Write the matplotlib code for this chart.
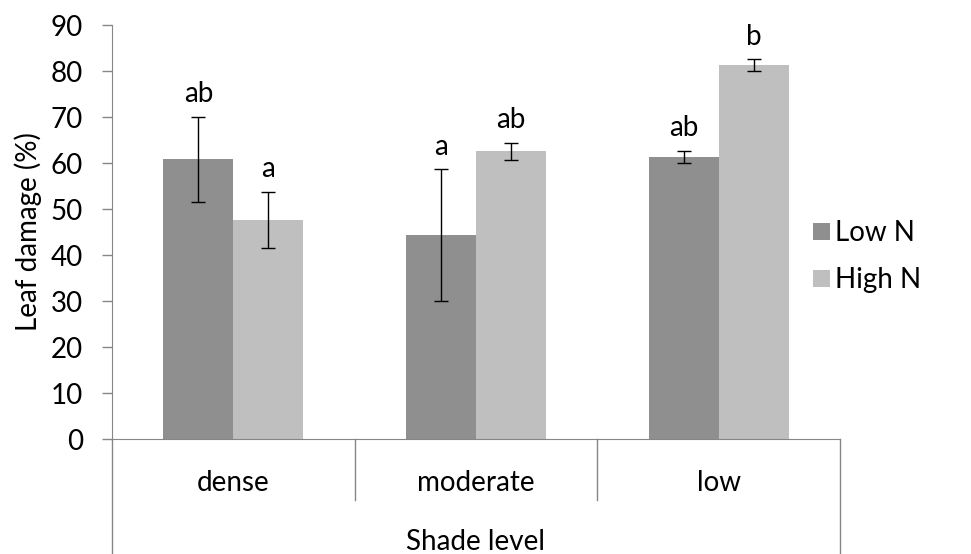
import matplotlib
matplotlib.use('Agg')
import matplotlib.pyplot as plt
import matplotlib.transforms as mtransforms
import numpy as np

# shade levels and group values
shade = ['dense', 'moderate', 'low']
low_n = [60.8, 44.3, 61.3]
low_n_err = [9.3, 14.3, 1.3]
high_n = [47.6, 62.5, 81.2]
high_n_err = [6.1, 1.8, 1.3]
low_n_letters = ['ab', 'a', 'ab']
high_n_letters = ['a', 'ab', 'b']

plt.rcParams['font.family'] = ['Lato', 'DejaVu Sans']
plt.rcParams['font.size'] = 20

fig = plt.figure(figsize=(9.71, 5.54), dpi=100)
ax = fig.add_axes([112/971, 1-439/554, (840-112)/971, (439-25)/554])

x = np.arange(len(shade))
w = 0.288
ax.bar(x - w/2, low_n, w, color='#8f8f8f', label='Low N', zorder=2)
ax.bar(x + w/2, high_n, w, color='#bfbfbf', label='High N', zorder=2)
ax.errorbar(x - w/2, low_n, yerr=low_n_err, fmt='none', ecolor='black',
            elinewidth=1, capsize=5, capthick=1, zorder=3)
ax.errorbar(x + w/2, high_n, yerr=high_n_err, fmt='none', ecolor='black',
            elinewidth=1, capsize=5, capthick=1, zorder=3)

# significance letters above the error bars
for i in range(len(shade)):
    ax.annotate(low_n_letters[i], (x[i] - w/2, low_n[i] + low_n_err[i]),
                xytext=(0, 7), textcoords='offset points', ha='center', va='bottom')
    ax.annotate(high_n_letters[i], (x[i] + w/2, high_n[i] + high_n_err[i]),
                xytext=(0, 7), textcoords='offset points', ha='center', va='bottom')

ax.set_xlim(-0.5, 2.5)
ax.set_ylim(0, 90)
ax.set_yticks(range(0, 91, 10))
ax.tick_params(axis='y', length=7, color='#868686', width=1, pad=14)
ax.tick_params(axis='x', length=0, pad=22)
ax.set_xticks(x)
ax.set_xticklabels(shade)
for s in ['top', 'right']:
    ax.spines[s].set_visible(False)
for s in ['left', 'bottom']:
    ax.spines[s].set_color('#868686')
ax.set_ylabel('Leaf damage (%)', labelpad=6)

# multi-level category axis lines
trans = mtransforms.blended_transform_factory(ax.transData, ax.transAxes)
bottom = -439/414
ax.plot([-0.5, -0.5], [0, bottom], color='#868686', lw=1, transform=trans, clip_on=False)
ax.plot([2.5, 2.5], [0, bottom], color='#868686', lw=1, transform=trans, clip_on=False)
for b in [0.5, 1.5]:
    ax.plot([b, b], [0, -61/414], color='#868686', lw=1, transform=trans, clip_on=False)
ax.text(1.0, -103/414, 'Shade level', transform=trans, ha='center', va='center')

ax.legend(loc='center left', bbox_to_anchor=(0.948, 0.44), frameon=False,
          borderaxespad=0, handlelength=0.6, handleheight=0.6,
          handletextpad=0.2, labelspacing=0.75)

fig.savefig('out.png', dpi=100)
